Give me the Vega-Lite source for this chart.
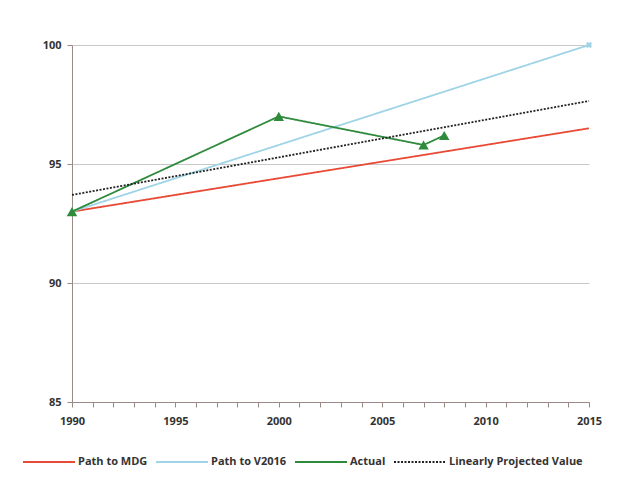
{
  "$schema": "https://vega.github.io/schema/vega-lite/v6.json",
  "width": 517,
  "height": 357,
  "autosize": {"type": "none"},
  "padding": {"left": 72, "top": 45, "right": 33, "bottom": 101},
  "background": "white",
  "config": {
    "view": {"stroke": null},
    "font": "Open Sans",
    "axis": {"labelFont": "Open Sans", "labelFontWeight": "bold", "labelFontSize": 11, "labelColor": "#333333"},
    "legend": {"labelFont": "Open Sans", "labelFontWeight": "bold", "labelFontSize": 11, "labelColor": "#333333"}
  },
  "data": {
    "values": [
      {"year": 1990, "value": 93.0, "series": "Path to MDG"},
      {"year": 2015, "value": 96.5, "series": "Path to MDG"},
      {"year": 1990, "value": 93.0, "series": "Path to V2016"},
      {"year": 2015, "value": 100.0, "series": "Path to V2016"},
      {"year": 1990, "value": 93.0, "series": "Actual"},
      {"year": 2000, "value": 97.0, "series": "Actual"},
      {"year": 2007, "value": 95.8, "series": "Actual"},
      {"year": 2008, "value": 96.2, "series": "Actual"},
      {"year": 1990, "value": 93.7, "series": "Linearly Projected Value"},
      {"year": 2015, "value": 97.65, "series": "Linearly Projected Value"}
    ]
  },
  "layer": [
    {
      "mark": {"type": "line", "clip": false},
      "encoding": {
        "x": {
          "field": "year", "type": "quantitative",
          "scale": {"domain": [1990, 2015], "nice": false, "zero": false},
          "axis": {
            "title": null, "grid": false,
            "values": [1990,1991,1992,1993,1994,1995,1996,1997,1998,1999,2000,2001,2002,2003,2004,2005,2006,2007,2008,2009,2010,2011,2012,2013,2014,2015],
            "tickCount": 26,
            "labelExpr": "datum.value % 5 === 0 ? datum.value : ''",
            "format": "d",
            "domainColor": "#9a8a85", "tickColor": "#9a8a85", "tickSize": 5,
            "labelPadding": 8, "labelOverlap": false, "labelFlush": false, "labelBound": false
          }
        },
        "y": {
          "field": "value", "type": "quantitative",
          "scale": {"domain": [85, 100], "nice": false, "zero": false},
          "axis": {
            "title": null, "values": [85, 90, 95, 100],
            "gridColor": "#c8c8c8", "gridWidth": 1,
            "domainColor": "#9a8a85", "tickColor": "#9a8a85", "tickSize": 5,
            "labelPadding": 6
          }
        },
        "color": {
          "field": "series", "type": "nominal",
          "scale": {
            "domain": ["Path to MDG", "Path to V2016", "Actual", "Linearly Projected Value"],
            "range": ["#e84a36", "#9fd4e6", "#2f8a3c", "#222222"]
          },
          "legend": {
            "title": null, "orient": "none", "direction": "horizontal",
            "legendX": -50, "legendY": 390,
            "symbolType": "stroke", "symbolSize": 2700, "symbolStrokeWidth": 2,
            "columnPadding": 4, "labelOffset": 2
          }
        },
        "strokeDash": {
          "field": "series", "type": "nominal",
          "scale": {
            "domain": ["Path to MDG", "Path to V2016", "Actual", "Linearly Projected Value"],
            "range": [[1, 0], [1, 0], [1, 0], [2, 1.5]]
          },
          "legend": null
        },
        "strokeWidth": {
          "field": "series", "type": "nominal",
          "scale": {
            "domain": ["Path to MDG", "Path to V2016", "Actual", "Linearly Projected Value"],
            "range": [1.8, 1.8, 2.6, 1.8]
          },
          "legend": null
        }
      }
    },
    {
      "transform": [{"filter": "datum.series === 'Actual'"}],
      "mark": {"type": "point", "shape": "triangle-up", "filled": true, "size": 110, "color": "#2f8a3c", "opacity": 1, "clip": false},
      "encoding": {
        "x": {"field": "year", "type": "quantitative"},
        "y": {"field": "value", "type": "quantitative"}
      }
    },
    {
      "transform": [{"filter": "datum.series === 'Path to V2016' && datum.year === 2015"}],
      "mark": {"type": "point", "shape": "cross", "filled": true, "size": 40, "angle": 45, "color": "#9fd4e6", "opacity": 1, "clip": false},
      "encoding": {
        "x": {"field": "year", "type": "quantitative"},
        "y": {"field": "value", "type": "quantitative"}
      }
    }
  ]
}
